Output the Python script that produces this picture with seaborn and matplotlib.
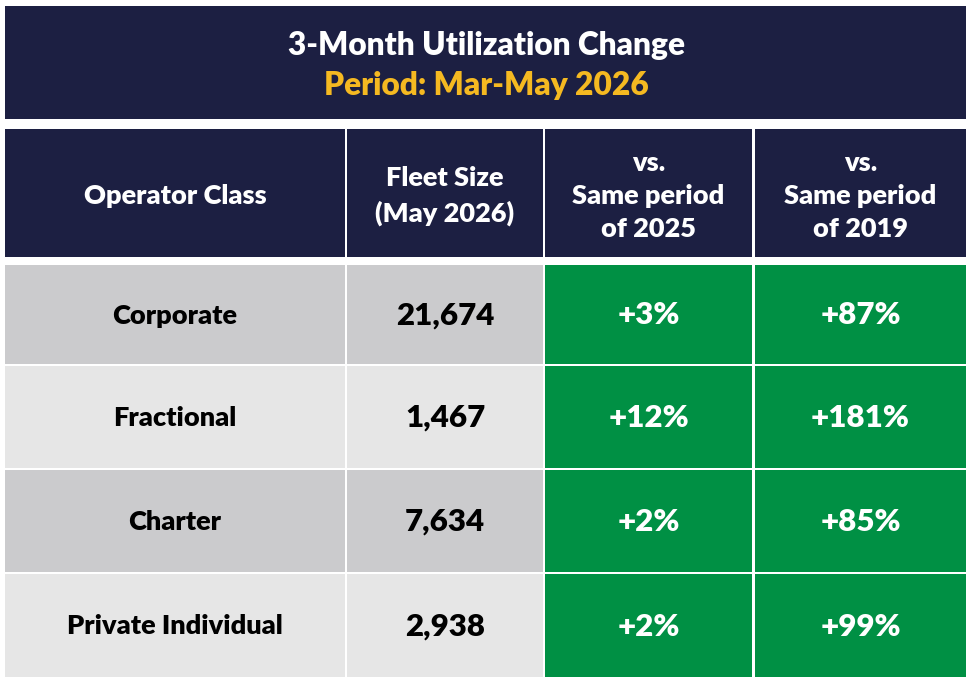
import matplotlib
matplotlib.use("Agg")
import matplotlib.pyplot as plt
from matplotlib.patches import Rectangle
import seaborn as sns

# table content
title = "3-Month Utilization Change"
subtitle = "Period: Mar-May 2026"
headers = ["Operator Class", "Fleet Size\n(May 2026)",
           "vs.\nSame period\nof 2025", "vs.\nSame period\nof 2019"]
operator_class = ["Corporate", "Fractional", "Charter", "Private Individual"]
fleet_size = ["21,674", "1,467", "7,634", "2,938"]
vs_2025 = ["+3%", "+12%", "+2%", "+2%"]
vs_2019 = ["+87%", "+181%", "+85%", "+99%"]

NAVY = "#1c1f42"
GOLD = "#f5b921"
GREEN = "#009044"
GRAY_DARK = "#cbcbcd"
GRAY_LIGHT = "#e6e6e6"

sns.set_theme(style="white")
plt.rcParams["font.family"] = ["Lato", "DejaVu Sans"]
WEIGHT = "heavy"

fig = plt.figure(figsize=(9.72, 6.84), dpi=100)
ax = fig.add_axes([0, 0, 1, 1])
ax.set_xlim(0, 972)
ax.set_ylim(684, 0)
ax.axis("off")

col_left = [5, 347, 545, 755]
col_right = [345, 543, 752, 966]
row_top = [265, 366, 470, 574]
row_bottom = [364, 468, 572, 677]


def cell(x0, x1, y0, y1, color):
    ax.add_patch(Rectangle((x0, y0), x1 - x0, y1 - y0, facecolor=color,
                           edgecolor="none"))


# title block
cell(5, 966, 6, 119, NAVY)
ax.text(486, 45, title, color="white", fontsize=22.8, fontweight=WEIGHT,
        ha="center", va="center")
ax.text(486, 86, subtitle, color=GOLD, fontsize=22.8, fontweight=WEIGHT,
        ha="center", va="center")

# header row
for i, h in enumerate(headers):
    cell(col_left[i], col_right[i], 129, 257, NAVY)
    ax.text((col_left[i] + col_right[i]) / 2, 196, h, color="white",
            fontsize=19.5, fontweight=WEIGHT, ha="center", va="center",
            linespacing=1.46)

# body rows
for r in range(len(operator_class)):
    bg = GRAY_DARK if r % 2 == 0 else GRAY_LIGHT
    y0, y1 = row_top[r], row_bottom[r]
    yc = (y0 + y1) / 2 + 1
    values = [operator_class[r], fleet_size[r], vs_2025[r], vs_2019[r]]
    fills = [bg, bg, GREEN, GREEN]
    for c, val in enumerate(values):
        cell(col_left[c], col_right[c], y0, y1, fills[c])
        size = 19.5 if c == 0 else 22.5
        color = "white" if c >= 2 else "black"
        ax.text((col_left[c] + col_right[c]) / 2, yc, val, color=color,
                fontsize=size, fontweight=WEIGHT, ha="center", va="center")

fig.savefig("out.png", dpi=100, facecolor="white")
